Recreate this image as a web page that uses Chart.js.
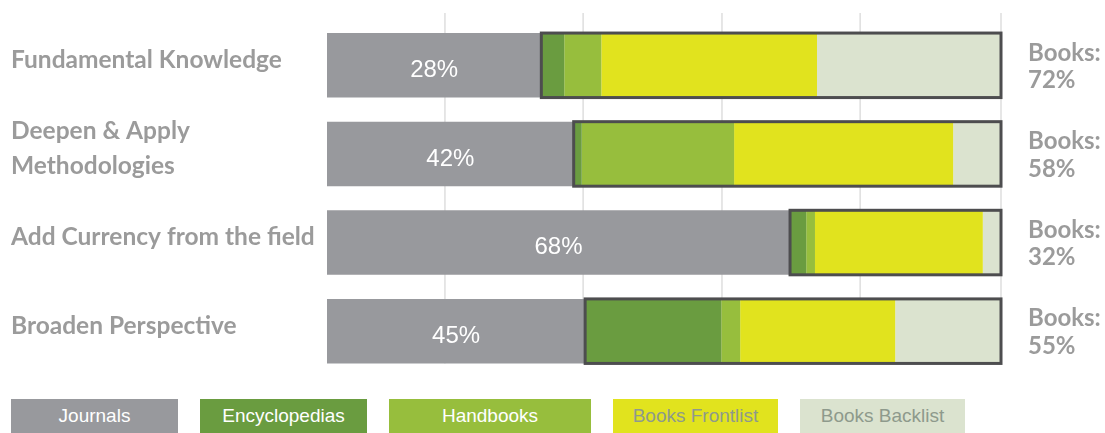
<!DOCTYPE html>
<html>
<head>
<meta charset="utf-8">
<script src="https://cdn.jsdelivr.net/npm/chart.js@4"></script>
<style>
  body { margin: 0; background: #fff; }
  #wrap { position: relative; width: 1105px; height: 433px; }
  #chartBox { position: absolute; left: 0; top: 0; width: 1105px; height: 396px; }
  #legend { position: absolute; left: 11px; top: 399px; display: flex; gap: 22px; }
  #legend div {
    height: 34px; line-height: 34px; text-align: center;
    font-family: "Liberation Sans", Arial, sans-serif; font-size: 19px;
  }
</style>
</head>
<body>
<div id="wrap">
  <div id="chartBox"><canvas id="mixChart"></canvas></div>
  <div id="legend"></div>
</div>
<script>
const categories = [
    ['Fundamental Knowledge'],
    ['Deepen & Apply', 'Methodologies'],
    ['Add Currency from the field'],
    ['Broaden Perspective']
];
const journals = [31.8, 36.6, 68.7, 38.3];
const encyclopedias = [3.4, 1.2, 2.4, 20.2];
const handbooks = [5.5, 22.6, 1.3, 2.8];
const booksFrontlist = [32.0, 32.5, 24.9, 23.0];
const booksBacklist = [27.3, 7.1, 2.7, 15.7];
const journalLabels = ['28%', '42%', '68%', '45%'];
const booksLabels = ['72%', '58%', '32%', '55%'];
const gridValues = [17.5, 38, 58.6, 79.1, 100];

const labelGray = '#9b9b9b';
const legendWidths = [167, 167, 202, 165, 165];

// vertical guide lines behind the bars
const gridLines = {
    id: 'gridLines',
    beforeDatasetsDraw(chart) {
        const { ctx, chartArea, scales } = chart;
        const last = chart.getDatasetMeta(0).data[categories.length - 1];
        const bottom = last.y + last.height / 2;
        ctx.save();
        ctx.strokeStyle = '#dedede';
        ctx.lineWidth = 1.5;
        gridValues.forEach(v => {
            const x = scales.x.getPixelForValue(v);
            ctx.beginPath();
            ctx.moveTo(x, chartArea.top - 8);
            ctx.lineTo(x, bottom);
            ctx.stroke();
        });
        ctx.restore();
    }
};

// outline round the books part, journal % inside, books % on the right
const barExtras = {
    id: 'barExtras',
    afterDatasetsDraw(chart) {
        const { ctx, chartArea } = chart;
        const jMeta = chart.getDatasetMeta(0);
        const eMeta = chart.getDatasetMeta(1);
        const bMeta = chart.getDatasetMeta(4);
        ctx.save();
        categories.forEach((c, i) => {
            const start = eMeta.data[i].base;
            const end = bMeta.data[i].x;
            const bar = bMeta.data[i];
            const top = bar.y - bar.height / 2;
            ctx.strokeStyle = '#4d4d4f';
            ctx.lineWidth = 3;
            ctx.strokeRect(start, top, end - start, bar.height);

            const j = jMeta.data[i];
            ctx.fillStyle = '#ffffff';
            ctx.font = '24px "Liberation Sans", Arial, sans-serif';
            ctx.textAlign = 'center';
            ctx.textBaseline = 'middle';
            ctx.fillText(journalLabels[i], (j.base + j.x) / 2, j.y + 5);

            ctx.fillStyle = labelGray;
            ctx.font = 'bold 24px Lato, sans-serif';
            ctx.textAlign = 'left';
            ctx.fillText('Books:', chartArea.right + 27, bar.y - 12.5);
            ctx.fillText(booksLabels[i], chartArea.right + 27, bar.y + 15);
        });
        ctx.restore();
    }
};

const chart = new Chart(document.getElementById('mixChart'), {
    type: 'bar',
    data: {
        labels: categories,
        datasets: [
            { label: 'Journals', data: journals, backgroundColor: '#98999d', legendText: '#ffffff' },
            { label: 'Encyclopedias', data: encyclopedias, backgroundColor: '#6a9c40', legendText: '#ffffff' },
            { label: 'Handbooks', data: handbooks, backgroundColor: '#97be3d', legendText: '#ffffff' },
            { label: 'Books Frontlist', data: booksFrontlist, backgroundColor: '#e1e31e', legendText: '#8e9a8c' },
            { label: 'Books Backlist', data: booksBacklist, backgroundColor: '#dbe3cf', legendText: '#8e9a8c' }
        ]
    },
    options: {
        indexAxis: 'y',
        responsive: true,
        maintainAspectRatio: false,
        animation: false,
        categoryPercentage: 0.8,
        barPercentage: 0.91,
        layout: { padding: { left: 11, right: 104, top: 21, bottom: 0 } },
        plugins: { legend: { display: false }, tooltip: { enabled: false } },
        scales: {
            x: { stacked: true, min: 0, max: 100, display: false },
            y: {
                stacked: true,
                grid: { display: false },
                border: { display: false },
                ticks: {
                    crossAlign: 'far',
                    labelOffset: -5,
                    color: labelGray,
                    font: { family: 'Lato', weight: 'bold', size: 24.5, lineHeight: 1.43 }
                },
                afterFit(scale) { scale.width = 316; }
            }
        }
    },
    plugins: [gridLines, barExtras]
});

const legendEl = document.getElementById('legend');
chart.data.datasets.forEach((ds, i) => {
    const item = document.createElement('div');
    item.textContent = ds.label;
    item.style.width = legendWidths[i] + 'px';
    item.style.background = ds.backgroundColor;
    item.style.color = ds.legendText;
    legendEl.appendChild(item);
});
</script>
</body>
</html>
